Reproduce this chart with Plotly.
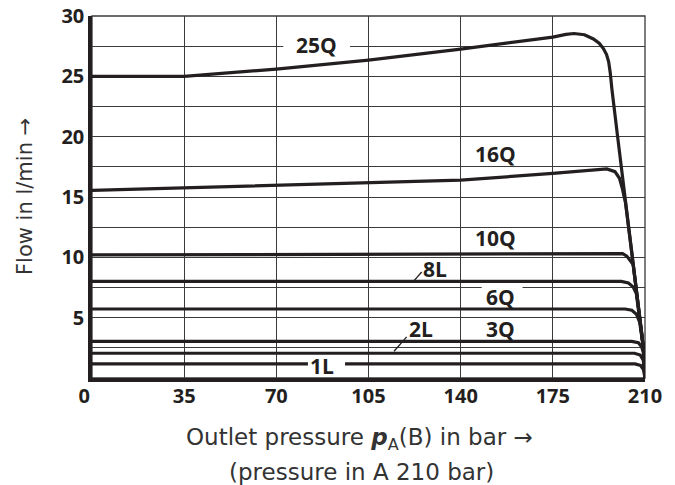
import plotly.graph_objects as go

# ---------------- data ----------------
x_ticks = [0, 35, 70, 105, 140, 175, 210]
x_tick_labels = ["0\u00a0\u00a0\u00a0", "35", "70", "105", "140", "175", "210"]
y_ticks = [5, 10, 15, 20, 25, 30]
y_tick_labels = ["5", "10", "15", "20", "25", "30"]
y_minor_grid = [0, 2.5, 7.5, 12.5, 17.5, 22.5, 27.5]

curve_names = ["25Q", "16Q", "10Q", "8L", "6Q", "3Q", "2L", "1L"]

p_25Q = [0, 35, 70, 105, 140, 175, 180, 183, 187, 190.4, 192.6, 194.2, 195.4, 196.2, 196.8,
         197.4, 199.6, 202.4, 205.2, 208.0, 209.4, 210]
q_25Q = [25.0, 25.0, 25.6, 26.35, 27.25, 28.25, 28.48, 28.55, 28.45, 28.1, 27.75, 27.3, 26.8, 26.2, 25.3,
         24.0, 20.0, 15.0, 10.0, 5.0, 2.5, 0]

p_16Q = [0, 35, 70, 105, 140, 175, 190, 195.5, 198.6, 200.3, 201.4, 202.6, 205.2, 208.0, 209.4, 210]
q_16Q = [15.55, 15.75, 15.95, 16.15, 16.4, 16.95, 17.22, 17.33, 17.1, 16.55, 15.7, 14.5, 10.0, 5.0, 2.5, 0]

p_10Q = [0, 105, 175, 199.5, 201.5, 203.1, 204.3, 205.5, 208.0, 209.4, 210]
q_10Q = [10.2, 10.28, 10.33, 10.35, 10.3, 10.1, 9.8, 9.4, 5.0, 2.5, 0]

p_8L = [0, 201, 203.7, 205.5, 206.7, 208.0, 209.4, 210]
q_8L = [8.0, 8.0, 7.88, 7.55, 7.0, 5.0, 2.5, 0]

p_6Q = [0, 202.4, 205.0, 206.8, 208.0, 208.8, 209.4, 210]
q_6Q = [5.72, 5.72, 5.62, 5.27, 4.6, 3.6, 2.5, 0]

p_3Q = [0, 205, 207.5, 208.7, 209.4, 209.8, 210]
q_3Q = [3.04, 3.04, 2.92, 2.6, 2.08, 1.0, 0]

p_2L = [0, 206, 208.2, 209.3, 209.8, 210]
q_2L = [2.05, 2.05, 1.9, 1.5, 0.8, 0]

p_1L = [0, 206.2, 208.3, 209.4, 210]
q_1L = [1.17, 1.17, 1.05, 0.7, 0]

curves_p = [p_25Q, p_16Q, p_10Q, p_8L, p_6Q, p_3Q, p_2L, p_1L]
curves_q = [q_25Q, q_16Q, q_10Q, q_8L, q_6Q, q_3Q, q_2L, q_1L]

# ---------------- styling ----------------
INK = "#231f20"
GRID = "#3a3a3a"
FONT = "Open Sans"
TITLE_FONT = "DejaVu Sans"
TITLE_COLOR = "#333333"

fig = go.Figure()
for name, px_, qy in zip(curve_names, curves_p, curves_q):
    fig.add_trace(go.Scatter(x=px_, y=qy, mode="lines", name=name,
                             line=dict(color=INK, width=3.2), hoverinfo="skip"))

axis_common = dict(showgrid=True, gridcolor=GRID, gridwidth=1.3, zeroline=False,
                   showline=True, linecolor=INK, linewidth=3.5, ticks="", automargin=False,
                   ticklabeloverflow="allow",
                   tickfont=dict(family=FONT, size=20, color=INK, weight=700))

# page body adds an 8px offset; figure sized so the window shows the full chart
fig.update_layout(
    width=667, height=477,
    margin=dict(l=84, r=30, t=8, b=107),
    paper_bgcolor="white", plot_bgcolor="white",
    showlegend=False,
    xaxis=dict(range=[0, 210], tickmode="array", tickvals=x_ticks, ticktext=x_tick_labels,
               ticklabelstandoff=-3, **axis_common),
    yaxis=dict(range=[0, 30], tickmode="array", tickvals=y_ticks, ticktext=y_tick_labels,
               minor=dict(tickmode="array", tickvals=y_minor_grid, showgrid=True,
                          gridcolor=GRID, gridwidth=1.3, ticks=""),
               **axis_common),
)

# thin top/right frame
fig.add_shape(type="rect", xref="paper", yref="paper", x0=0, x1=1, y0=0, y1=1,
              line=dict(color=GRID, width=1.3), layer="below")

# white masks behind labels that interrupt lines
for (x0, x1, y0, y1) in [(72.65, 98.0, 27.2, 27.8), (148.0, 163.5, 7.2, 7.8), (82.0, 96.1, 0.85, 1.5)]:
    fig.add_shape(type="rect", x0=x0, x1=x1, y0=y0, y1=y1, fillcolor="white",
                  line=dict(width=0), layer="above")

# leader lines
for (x0, y0, x1, y1) in [(122.4, 8.09, 125.2, 8.78), (114.7, 2.22, 119.5, 3.41)]:
    fig.add_shape(type="line", x0=x0, y0=y0, x1=x1, y1=y1,
                  line=dict(color=INK, width=1.3), layer="above")

label_pos = {"25Q": (85.1, 27.6), "16Q": (153.3, 18.6), "10Q": (153.3, 11.6), "8L": (130.1, 9.05),
             "6Q": (155.2, 6.75), "3Q": (155.2, 4.05), "2L": (124.9, 4.05), "1L": (87.5, 1.02)}
for name in curve_names:
    lx, ly = label_pos[name]
    fig.add_annotation(x=lx, y=ly, text=name, showarrow=False, xanchor="center", yanchor="middle",
                       font=dict(family=FONT, size=21, color=INK, weight=700))

# axis titles
fig.add_annotation(xref="paper", yref="paper", x=0, y=0.5, xshift=-67, text="Flow in l/min \u2192",
                   textangle=-90, showarrow=False, xanchor="center", yanchor="middle",
                   font=dict(family=TITLE_FONT, size=21, color=TITLE_COLOR))
fig.add_annotation(xref="paper", yref="paper", x=0.5, y=0, xshift=-9, yshift=-61,
                   text="Outlet pressure <b><i>p</i></b><sub>A</sub>(B) in bar \u2192",
                   showarrow=False, xanchor="center", yanchor="middle",
                   font=dict(family=TITLE_FONT, size=23, color=TITLE_COLOR))
fig.add_annotation(xref="paper", yref="paper", x=0.5, y=0, xshift=-7, yshift=-94,
                   text="(pressure in A 210 bar)",
                   showarrow=False, xanchor="center", yanchor="middle",
                   font=dict(family=TITLE_FONT, size=23, color=TITLE_COLOR))

fig.write_html("out.html")
